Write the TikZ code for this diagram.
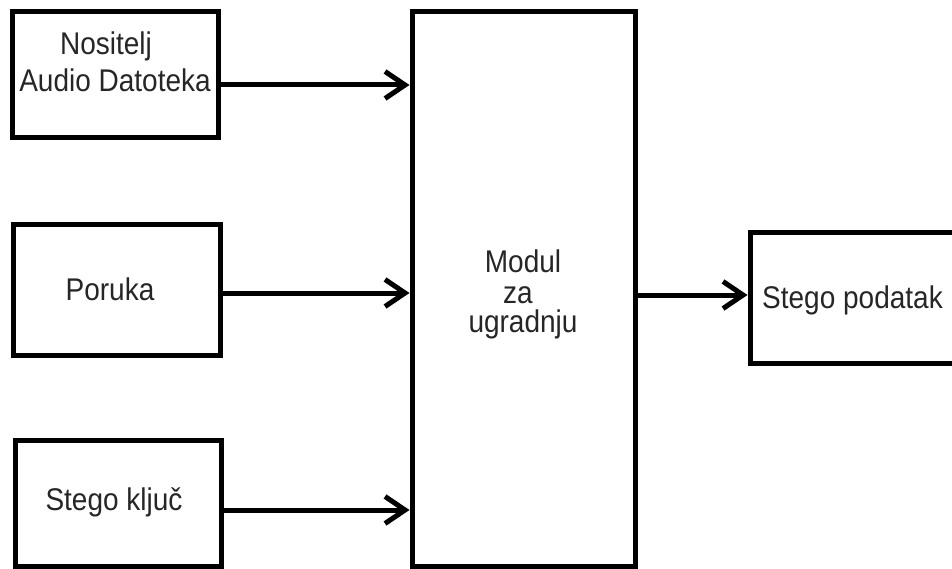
\documentclass[tikz,border=0pt]{standalone}
\usepackage{fontspec}
\setmainfont{Liberation Sans}
\usetikzlibrary{arrows.meta}
\newcommand{\talltxt}[1]{\scalebox{1}[1.12]{#1}}
\begin{document}
\begin{tikzpicture}[x=1pt,y=-1pt,
  blk/.style={draw=black,line width=5pt,rectangle,inner sep=0pt,fill=white},
  lbl/.style={text=black!85,font=\fontsize{28}{30}\selectfont,inner sep=0pt,anchor=base},
  arr/.style={line width=5pt,-{Straight Barb[length=20pt,width=27pt,line width=5pt]}}]
\useasboundingbox (0,0) rectangle (952,569);
\clip (0,0) rectangle (952,569);
\fill[white] (0,0) rectangle (952,569);
% boxes
\node[blk,minimum width=206pt,minimum height=126pt] (b1) at (115,75) {};
\node[blk,minimum width=207pt,minimum height=130pt] (b2) at (116.5,290) {};
\node[blk,minimum width=206pt,minimum height=126pt] (b3) at (118,503) {};
\node[blk,minimum width=223pt,minimum height=554pt] (mid) at (523.5,289) {};
\node[blk,minimum width=210pt,minimum height=130pt] (out) at (855,298) {};
% labels
\node[lbl] (t1a) at (106,55) {\talltxt{Nositelj}};
\node[lbl] (t1b) at (115,92) {\talltxt{Audio Datoteka}};
\node[lbl] (t2) at (110,300) {\talltxt{Poruka}};
\node[lbl] (t3) at (114,510) {\talltxt{Stego ključ}};
\node[lbl] (tm1) at (523,272) {\talltxt{Modul}};
\node[lbl] (tm2) at (518,303) {\talltxt{za}};
\node[lbl] (tm3) at (523,332) {\talltxt{ugradnju}};
\node[lbl,anchor=base west] (to) at (762,308) {\talltxt{Stego podatak}};
% connectors
\coordinate (y1) at (0,85);
\coordinate (y2) at (0,293);
\coordinate (y3) at (0,510);
\coordinate (y4) at (0,295);
\draw[arr] (b1.east |- y1) -- (mid.west |- y1);
\draw[arr] (b2.east |- y2) -- (mid.west |- y2);
\draw[arr] (b3.east |- y3) -- (mid.west |- y3);
\draw[arr] (mid.east |- y4) -- (out.west |- y4);
\end{tikzpicture}
\end{document}
